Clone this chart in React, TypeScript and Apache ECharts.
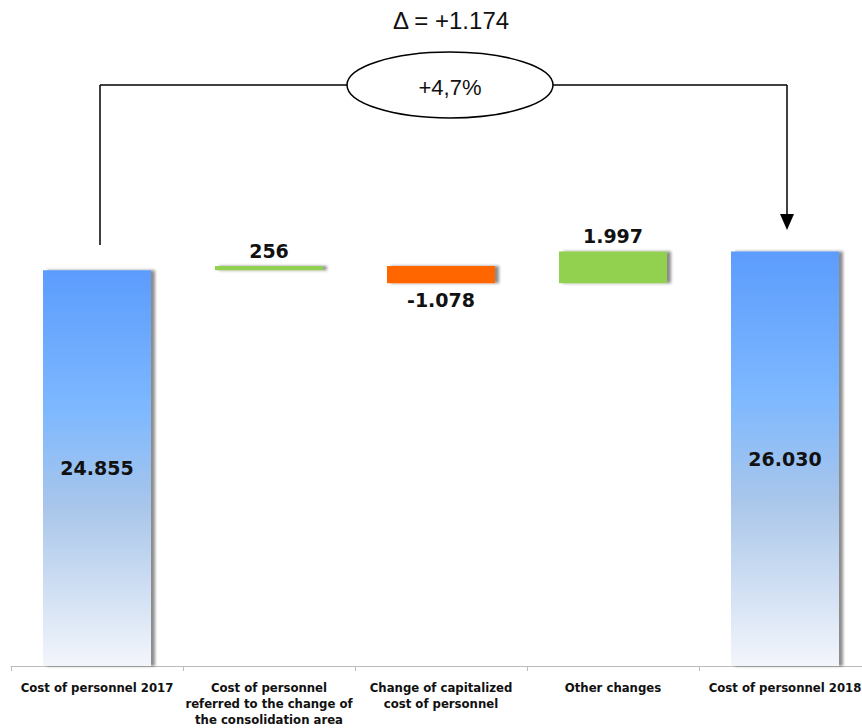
import React, { useEffect, useRef } from "react";
import * as echarts from "echarts";

const categories = [
  "Cost of personnel 2017",
  "Cost of personnel\nreferred to the change of\nthe consolidation area",
  "Change of capitalized\ncost of personnel",
  "Other changes",
  "Cost of personnel 2018",
];
const totals = [24855, null, null, null, 26030];
const increases = [null, 256, null, 1997, null];
const decreases = [null, null, 1078, null, null];
const bases = [0, 24855, 24033, 24033, 0];
const deltaText = "Δ = +1.174";
const pctText = "+4,7%";

const fmt = (v: number) => {
  const s = Math.abs(v).toString();
  return s.replace(/\B(?=(\d{3})+(?!\d))/g, ".");
};

export default function App() {
  const ref = useRef<HTMLDivElement>(null);
  useEffect(() => {
    if (!ref.current) return;
    const chart = echarts.init(ref.current, null, { renderer: "svg" });
    const shadow = {
      shadowColor: "rgba(0,0,0,0.45)",
      shadowBlur: 3,
      shadowOffsetX: 4,
      shadowOffsetY: 0,
    };
    const labelFont = {
      fontFamily: "DejaVu Sans",
      fontWeight: "bold" as const,
      fontSize: 19,
      color: "#111",
    };
    chart.setOption({
      animation: false,
      grid: { left: 11, right: 1, top: 29, bottom: 62 },
      xAxis: {
        type: "category",
        data: categories,
        axisLine: { lineStyle: { color: "#bbbbbb", width: 1 } },
        axisTick: { show: true, length: 5, lineStyle: { color: "#bbbbbb" } },
        axisLabel: {
          interval: 0,
          margin: 13,
          fontFamily: "DejaVu Sans Condensed",
          fontWeight: "bold",
          fontSize: 13,
          lineHeight: 16,
          color: "#111",
        },
      },
      yAxis: { type: "value", min: 0, max: 40000, show: false, splitLine: { show: false } },
      series: [
        {
          type: "bar",
          stack: "w",
          data: bases,
          barWidth: 108,
          itemStyle: { color: "transparent" },
          silent: true,
        },
        {
          type: "bar",
          stack: "w",
          data: totals,
          barWidth: 108,
          itemStyle: {
            color: new echarts.graphic.LinearGradient(0, 0, 0, 1, [
              { offset: 0, color: "#5c9cfd" },
              { offset: 0.35, color: "#7db8ff" },
              { offset: 0.6, color: "#a9c6ea" },
              { offset: 1, color: "#f3f6fb" },
            ]),
            ...shadow,
          },
          label: {
            show: true,
            position: "inside",
            formatter: (p: any) => fmt(p.value),
            ...labelFont,
          },
        },
        {
          type: "bar",
          stack: "w",
          data: increases,
          barWidth: 108,
          itemStyle: { color: "#92d050", ...shadow },
          label: {
            show: true,
            position: "top",
            distance: 6,
            formatter: (p: any) => fmt(p.value),
            ...labelFont,
          },
        },
        {
          type: "bar",
          stack: "w",
          data: decreases,
          barWidth: 108,
          itemStyle: { color: "#ff6600", ...shadow },
          label: {
            show: true,
            position: "bottom",
            distance: 7,
            formatter: (p: any) => "-" + fmt(p.value),
            ...labelFont,
          },
        },
      ],
      graphic: [
        {
          type: "text",
          x: 451,
          y: 20,
          style: {
            text: deltaText,
            align: "center",
            verticalAlign: "middle",
            fontFamily: "Liberation Sans",
            fontSize: 24,
            fill: "#111",
          },
        },
        {
          type: "line",
          shape: { x1: 100, y1: 245, x2: 100, y2: 85 },
          style: { stroke: "#000", lineWidth: 1.5 },
        },
        {
          type: "line",
          shape: { x1: 100, y1: 85, x2: 347, y2: 85 },
          style: { stroke: "#000", lineWidth: 1.5 },
        },
        {
          type: "line",
          shape: { x1: 553, y1: 85, x2: 787, y2: 85 },
          style: { stroke: "#000", lineWidth: 1.5 },
        },
        {
          type: "line",
          shape: { x1: 787, y1: 85, x2: 787, y2: 218 },
          style: { stroke: "#000", lineWidth: 1.5 },
        },
        {
          type: "polygon",
          shape: { points: [[780, 214], [794, 214], [787, 230]] },
          style: { fill: "#000" },
        },
        {
          type: "ellipse",
          shape: { cx: 450, cy: 85, rx: 103, ry: 33 },
          style: { fill: "#fff", stroke: "#000", lineWidth: 1.5 },
        },
        {
          type: "text",
          x: 450,
          y: 87,
          style: {
            text: pctText,
            align: "center",
            verticalAlign: "middle",
            fontFamily: "Liberation Sans",
            fontSize: 22,
            fill: "#111",
          },
        },
      ],
    });
    return () => chart.dispose();
  }, []);
  return (
    <div style={{ position: "absolute", left: 0, top: 0, width: 862, height: 728, overflow: "hidden" }}>
      <div ref={ref} style={{ width: 872, height: 728 }} />
    </div>
  );
}
